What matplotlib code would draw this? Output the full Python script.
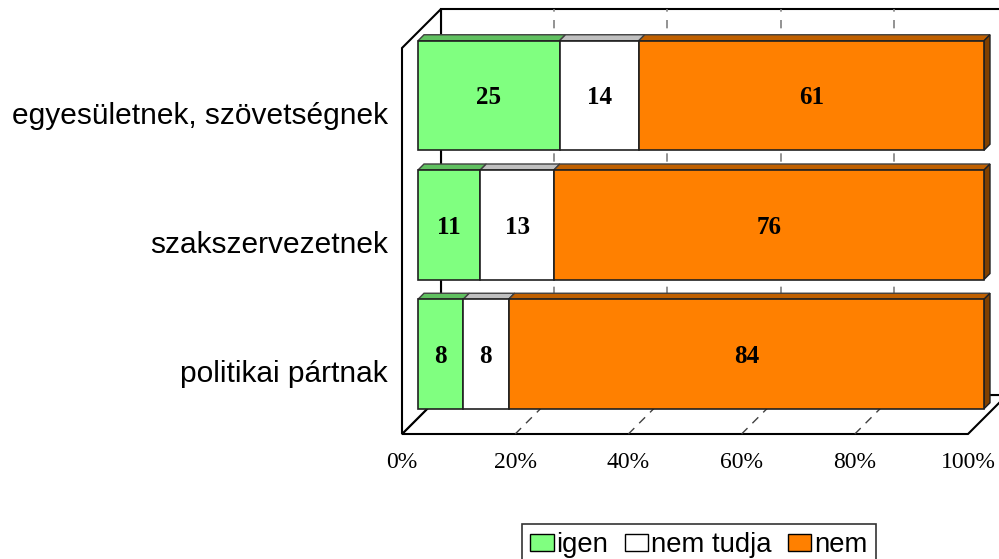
import matplotlib
matplotlib.use("Agg")
import matplotlib.pyplot as plt
from matplotlib.patches import Polygon, Patch
import numpy as np

categories = ["politikai pártnak", "szakszervezetnek", "egyesületnek, szövetségnek"]
series_names = ["igen", "nem tudja", "nem"]
igen = [8, 11, 25]
nem_tudja = [8, 13, 14]
nem = [84, 76, 61]
tick_values = [0, 20, 40, 60, 80, 100]
tick_labels = ["0%", "20%", "40%", "60%", "80%", "100%"]

front_colors = ["#80FF80", "#FFFFFF", "#FF8000"]
top_colors = ["#60C060", "#C0C0C0", "#C06000"]
side_color = "#804000"

# layout (pixel based 3D projection)
SX = 5.66          # px per percent on the front plane
X0, Y0 = 402, 434  # px position of origin (0%, floor) on front plane
DEPTH = 39         # wall depth in px
H = 386            # wall height in px
BAR_D0, BAR_D1 = 16, 22
CAT_C0, CAT_STEP = 64, 129.25
BAR_HALF = 54.75

W, HH = 999, 559
fig = plt.figure(figsize=(W / 100, HH / 100), dpi=100)
ax = fig.add_axes([0, 0, 1, 1])
ax.set_xlim(-X0 / SX, (W - X0) / SX)
ax.set_ylim(-(HH - Y0), Y0)
ax.axis("off")


def P(x, y, d):
    return (x + d / SX, y + d)


# walls
floor = Polygon([P(0, 0, 0), P(100, 0, 0), P(100, 0, DEPTH), P(0, 0, DEPTH)],
                closed=True, facecolor="white", edgecolor="black", lw=1.5, zorder=0)
ax.add_patch(floor)
back = Polygon([P(0, 0, DEPTH), P(100, 0, DEPTH), P(100, H, DEPTH), P(0, H, DEPTH)],
               closed=True, facecolor="white", edgecolor="black", lw=1.5, zorder=0)
ax.add_patch(back)
left = Polygon([P(0, 0, 0), P(0, H, 0), P(0, H, DEPTH), P(0, 0, DEPTH)],
               closed=True, facecolor="white", edgecolor="black", lw=1.5, zorder=0.5)
ax.add_patch(left)

# gridlines
for t in tick_values[1:-1]:
    xs, ys = zip(P(t, 0, DEPTH), P(t, H, DEPTH))
    ax.plot(xs, ys, color="#808080", lw=1.2, ls=(0, (5, 5)), zorder=1)
    xs, ys = zip(P(t, 0, 0), P(t, 0, DEPTH))
    ax.plot(xs, ys, color="#404040", lw=1.0, ls=(0, (6, 5)), zorder=1)

# bars
data = np.array([igen, nem_tudja, nem], dtype=float)
for i, cat in enumerate(categories):
    c = CAT_C0 + CAT_STEP * i
    y0, y1 = c - BAR_HALF, c + BAR_HALF
    left_val = 0.0
    for s in range(len(series_names)):
        v = data[s, i]
        r = left_val + v
        front = Polygon([P(left_val, y0, BAR_D0), P(r, y0, BAR_D0), P(r, y1, BAR_D0), P(left_val, y1, BAR_D0)],
                        closed=True, facecolor=front_colors[s], edgecolor="#202020", lw=1.2, zorder=3)
        ax.add_patch(front)
        top = Polygon([P(left_val, y1, BAR_D0), P(r, y1, BAR_D0), P(r, y1, BAR_D1), P(left_val, y1, BAR_D1)],
                      closed=True, facecolor=top_colors[s], edgecolor="#404040", lw=1.0, zorder=2)
        ax.add_patch(top)
        if s == len(series_names) - 1:
            side = Polygon([P(r, y0, BAR_D0), P(r, y1, BAR_D0), P(r, y1, BAR_D1), P(r, y0, BAR_D1)],
                           closed=True, facecolor=side_color, edgecolor="#202020", lw=1.0, zorder=2)
            ax.add_patch(side)
        tx, ty = P(left_val + v / 2, c, BAR_D0)
        ax.text(tx, ty - 9, f"{int(v)}", ha="center", va="baseline",
                fontsize=18, fontweight="bold", family="Liberation Serif", zorder=5)
        left_val = r
    # category label
    ax.text((388 - X0) / SX, c - 12, cat, ha="right", va="baseline",
            fontsize=21.5, family="Liberation Sans", zorder=5)

# tick labels
for t, lab in zip(tick_values, tick_labels):
    ax.text(t, -34, lab, ha="center", va="baseline", fontsize=17,
            family="Liberation Serif", zorder=5)

# legend
handles = [Patch(facecolor=front_colors[k], edgecolor="black", lw=1.0) for k in range(3)]
leg = fig.legend(handles, series_names, loc="upper left",
                 bbox_to_anchor=(522 / W, 1 - 524 / HH), ncol=3,
                 prop={"family": "Liberation Sans", "size": 19.8},
                 frameon=True, fancybox=False, edgecolor="black",
                 handlelength=0.85, handleheight=0.55, handletextpad=0.1,
                 columnspacing=0.6, borderpad=0.3, borderaxespad=0)
leg.get_frame().set_linewidth(1.2)

fig.savefig("out.png", dpi=100, facecolor="white")
